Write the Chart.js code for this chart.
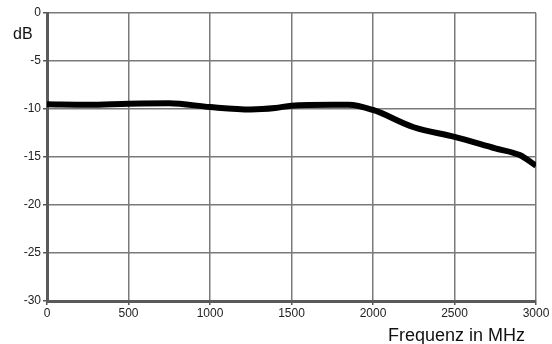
<!DOCTYPE html>
<html>
<head>
<meta charset="utf-8">
<script src="https://cdn.jsdelivr.net/npm/chart.js@4"></script>
<style>
  html, body { margin: 0; padding: 0; background: #fff; }
  #wrap { width: 552px; height: 344px; position: relative; }
</style>
</head>
<body>
<div id="wrap"><canvas id="plot1" width="552" height="344"></canvas></div>
<script>
// frequency in MHz and measured attenuation in dB
var freqs = [0, 250, 500, 750, 1000, 1250, 1400, 1500, 1750, 1850, 2000, 2250, 2500, 2750, 2900, 3000];
var gain  = [-9.5, -9.55, -9.45, -9.4, -9.8, -10.05, -9.9, -9.65, -9.55, -9.55, -10.1, -11.9, -12.9, -14.1, -14.8, -15.9];
var xTicks = [0, 500, 1000, 1500, 2000, 2500, 3000];
var yTicks = [0, -5, -10, -15, -20, -25, -30];

var FONT = '"Liberation Sans", Arial, sans-serif';

// axis captions: "dB" top left, "Frequenz in MHz" under the x axis, right side
var captions = {
  id: 'captions',
  afterDraw: function (chart) {
    var ctx = chart.ctx;
    ctx.save();
    ctx.fillStyle = '#111';
    ctx.textBaseline = 'alphabetic';
    ctx.font = '16px ' + FONT;
    ctx.textAlign = 'left';
    ctx.fillText('dB', 13, 39);
    ctx.font = '18px ' + FONT;
    ctx.textAlign = 'right';
    ctx.fillText('Frequenz in MHz', 525, 341);
    ctx.restore();
  }
};

var chart = new Chart(document.getElementById('plot1'), {
  type: 'line',
  data: {
    datasets: [
      {
        data: freqs.map((f, i) => {
          return { x: f, y: gain[i] };
        }),
        borderColor: '#000',
        borderWidth: 6,
        pointRadius: 0,
        cubicInterpolationMode: 'monotone',
        fill: false,
      },
    ],
  },
  options: {
    responsive: false,
    animation: false,
    layout: { padding: { top: 13, right: 16, left: 0, bottom: 0 } },
    plugins: { legend: { display: false }, tooltip: { enabled: false } },
    scales: {
      x: {
        type: 'linear',
        min: 0,
        max: 3000,
        afterBuildTicks: (s) => { s.ticks = xTicks.map((v) => ({ value: v })); },
        afterFit: (s) => { s.height = 43; },
        grid: { color: '#7a7a7a', lineWidth: 1.5, tickLength: 4, tickColor: '#555' },
        border: { color: '#5a5a5a', width: 3 },
        ticks: {
          color: '#222',
          font: { size: 12, family: FONT },
          padding: 1,
          maxRotation: 0,
          callback: (v) => String(v),
        },
      },
      y: {
        type: 'linear',
        min: -30,
        max: 0,
        afterBuildTicks: (s) => { s.ticks = yTicks.map((v) => ({ value: v })); },
        afterFit: (s) => { s.width = 47; },
        grid: { color: '#7a7a7a', lineWidth: 1.5, tickLength: 4, tickColor: '#555' },
        border: { color: '#5a5a5a', width: 3 },
        ticks: {
          color: '#222',
          font: { size: 12, family: FONT },
          padding: 2,
          callback: (v) => String(v),
        },
      },
    },
  },
  plugins: [captions],
});
</script>
</body>
</html>
